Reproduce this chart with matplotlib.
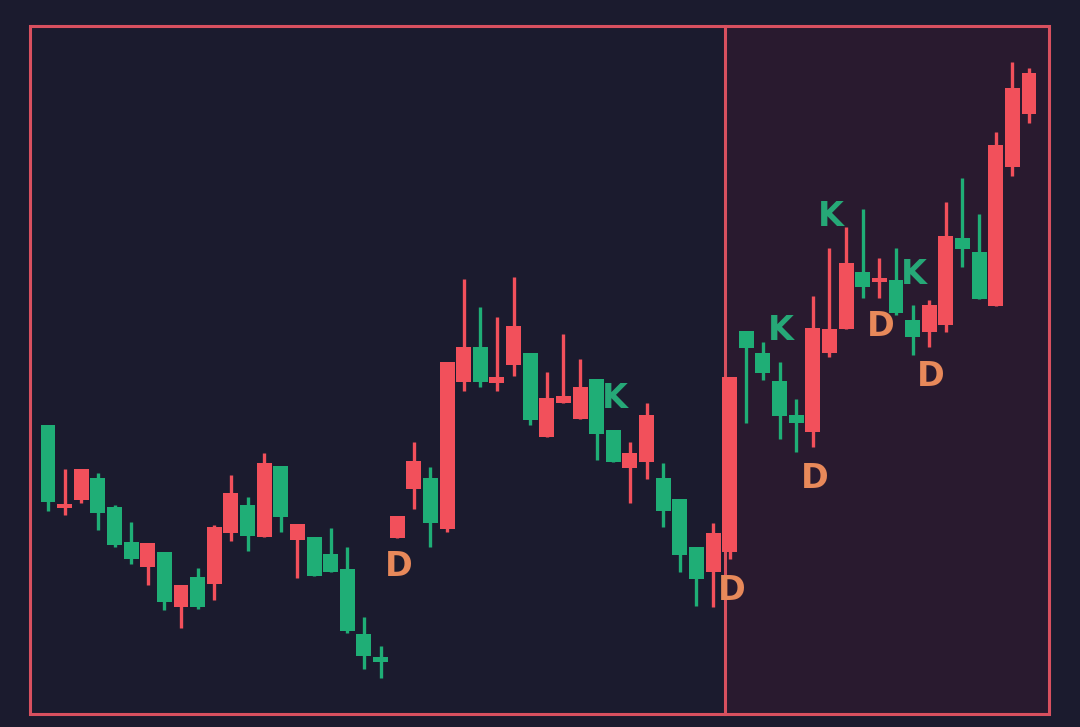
import numpy as np
import matplotlib
matplotlib.use('Agg')
from matplotlib import pyplot as plt
from matplotlib.patches import Rectangle

# OHLC levels (arbitrary price units, higher = up)
opens = [302, 219, 227, 249, 220, 185, 160, 175, 120, 150,
         143, 194, 222, 190, 261, 187, 190, 173, 158, 93,
         70, 189, 238, 249, 198, 345, 380, 344, 362, 374,
         290, 324, 308, 348, 297, 259, 265, 249, 228, 180,
         155, 175, 396, 374, 346, 312, 295, 374, 398, 455,
         445, 447, 407, 395, 402, 489, 475, 421, 560, 613]
highs = [302, 258, 258, 254, 222, 205, 184, 175, 142, 159,
         202, 252, 230, 274, 261, 203, 190, 199, 180, 110,
         81, 211, 285, 260, 365, 448, 420, 410, 450, 374,
         355, 393, 368, 348, 297, 285, 324, 264, 228, 180,
         204, 350, 396, 385, 365, 328, 431, 479, 500, 518,
         469, 479, 422, 427, 525, 549, 513, 595, 665, 659]
lows = [216, 212, 224, 197, 180, 163, 142, 117, 99, 118,
        127, 186, 176, 190, 195, 149, 151, 155, 94, 58,
        49, 189, 218, 180, 195, 336, 340, 336, 351, 302,
        290, 324, 308, 267, 265, 224, 248, 200, 155, 121,
        120, 168, 304, 347, 288, 275, 280, 370, 398, 429,
        429, 412, 372, 380, 395, 460, 428, 421, 551, 604]
closes = [225, 223, 258, 214, 182, 168, 184, 125, 142, 120,
          200, 234, 191, 264, 210, 203, 151, 155, 96, 71,
          65, 211, 266, 204, 365, 380, 345, 350, 401, 307,
          329, 331, 340, 293, 265, 274, 312, 216, 172, 148,
          194, 350, 379, 354, 311, 304, 399, 398, 464, 440,
          449, 414, 390, 422, 491, 478, 428, 582, 639, 654]

# letter marks: (candle position, price level, text)
mark_x = [21.1, 34.1, 41.1, 44.1, 46.1, 47.1, 50.1, 52.1, 53.1]
mark_y = [160, 329, 137, 396, 249, 510, 400, 453, 351]
mark_txt = ['D', 'K', 'D', 'K', 'D', 'K', 'D', 'K', 'D']

RED = '#f2505b'
GREEN = '#1fae76'
ORANGE = '#e8895a'
KGREEN = '#26a877'
FRAME = '#d8505f'
BG = '#1b1b2e'
SHADE = '#291a2f'

W, H = 1080, 727
fig = plt.figure(figsize=(W / 100, H / 100), dpi=100, facecolor=BG)

ax = fig.add_axes([0, 0, 1, 1])
ax.set_facecolor(BG)
ax.axis('off')

# frame and the shaded right-hand zone (axes fraction = figure fraction here)
fx0, fx1, fy0, fy1, split = 30 / W, 1049 / W, 1 - 714 / H, 1 - 26 / H, 725 / W
ax.add_patch(Rectangle((split, fy0), fx1 - split, fy1 - fy0, transform=ax.transAxes,
                       facecolor=SHADE, edgecolor='none', zorder=0))
ax.add_patch(Rectangle((fx0, fy0), fx1 - fx0, fy1 - fy0, transform=ax.transAxes,
                       facecolor='none', edgecolor=FRAME, linewidth=2.2, zorder=2))
ax.plot([split, split], [fy0, fy1], transform=ax.transAxes, color=FRAME,
        linewidth=2.2, zorder=2)

step = (1029 - 48) / 59.0
ax.set_xlim(-48 / step, (W - 48) / step)
ax.set_ylim(0, H)

n = len(opens)
xs = np.arange(n)
o = np.array(opens, float)
c = np.array(closes, float)
up = c >= o
cols = [RED if u else GREEN for u in up]

ax.vlines(xs, lows, highs, colors=cols, linewidth=2.4, zorder=3)
bottoms = np.minimum(o, c)
heights = np.maximum(np.abs(c - o), 3)
ax.bar(xs, heights, bottom=bottoms, width=0.9, color=cols, linewidth=0, zorder=4)

for x, y, t in zip(mark_x, mark_y, mark_txt):
    ax.text(x, y, t, color=ORANGE if t == 'D' else KGREEN, fontsize=24,
            fontweight='heavy', family='DejaVu Sans', ha='center', va='center', zorder=5)

fig.savefig('out.png', dpi=100, facecolor=BG)
